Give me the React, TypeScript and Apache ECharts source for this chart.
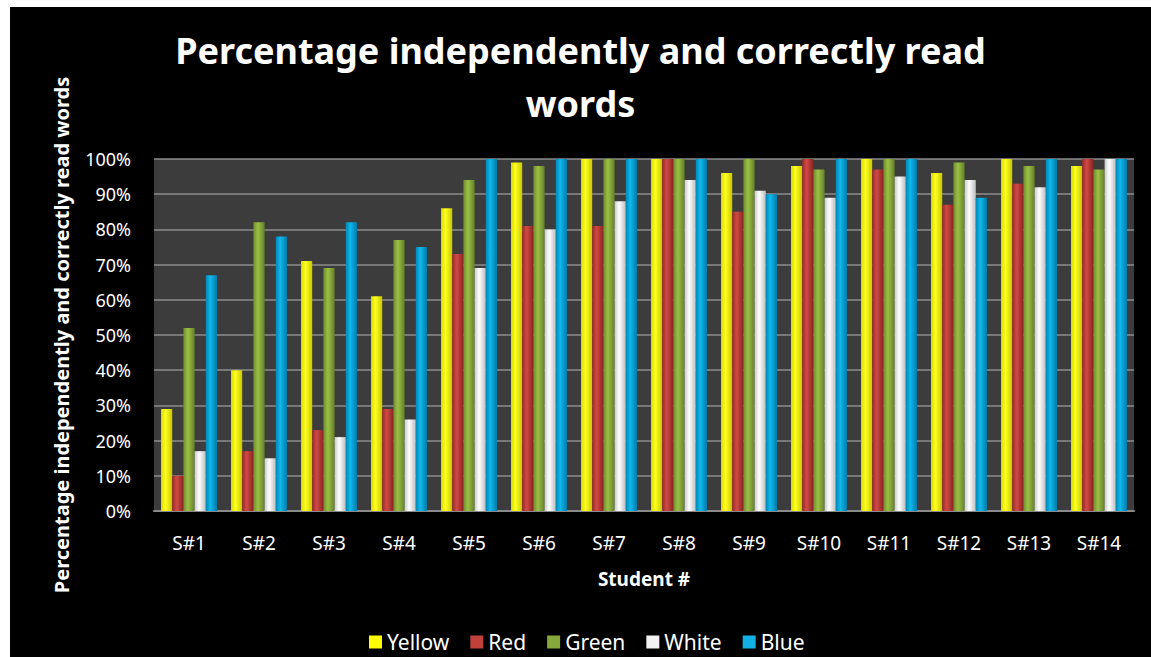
import React, { useEffect, useRef } from "react";
import * as echarts from "echarts";

// Student categories and per-colour reading scores (%)
const students = ["S#1", "S#2", "S#3", "S#4", "S#5", "S#6", "S#7", "S#8", "S#9", "S#10", "S#11", "S#12", "S#13", "S#14"];
const yellow = [29, 40, 71, 61, 86, 99, 100, 100, 96, 98, 100, 96, 100, 98];
const red = [10, 17, 23, 29, 73, 81, 81, 100, 85, 100, 97, 87, 93, 100];
const green = [52, 82, 69, 77, 94, 98, 100, 100, 100, 97, 100, 99, 98, 97];
const white = [17, 15, 21, 26, 69, 80, 88, 94, 91, 89, 95, 94, 92, 100];
const blue = [67, 78, 82, 75, 100, 100, 100, 100, 90, 100, 100, 89, 100, 100];

const seriesNames = ["Yellow", "Red", "Green", "White", "Blue"];
const seriesData = [yellow, red, green, white, blue];

// left edge, centre highlight, right edge of each cylinder-like column
const palette = [
  ["#d8d800", "#ffff20", "#c8c800"],
  ["#9a2a28", "#d04a44", "#8a2422"],
  ["#6e8c2c", "#9cc044", "#64802a"],
  ["#c8c8c8", "#ffffff", "#bdbdbd"],
  ["#0088b8", "#10b8ec", "#007aa8"],
];
const legendColors = ["#ffff00", "#c0403c", "#86a83a", "#f2f2f2", "#10b0e4"];

const FONT = "'Noto Sans', sans-serif";

export default function App() {
  const ref = useRef<HTMLDivElement>(null);

  useEffect(() => {
    if (!ref.current) return;
    const chart = echarts.init(ref.current, null, { renderer: "svg" });
    chart.setOption({
      animation: false,
      backgroundColor: "#000000",
      title: {
        text: "Percentage independently and correctly read\nwords",
        left: "center",
        top: 12,
        textStyle: {
          color: "#ffffff",
          fontFamily: FONT,
          fontWeight: "bold",
          fontSize: 36,
          lineHeight: 53,
        },
      },
      legend: {
        bottom: 4,
        left: 359,
        padding: 0,
        itemWidth: 13,
        itemHeight: 13,
        itemGap: 21,
        icon: "rect",
        textStyle: { color: "#ffffff", fontFamily: FONT, fontSize: 21, lineHeight: 22 },
        data: seriesNames.map((n, i) => ({ name: n, itemStyle: { color: legendColors[i] } })),
      },
      grid: {
        left: 144,
        right: 17,
        top: 152,
        bottom: 146,
        show: true,
        backgroundColor: "#3c3c3c",
        borderWidth: 0,
      },
      xAxis: {
        type: "category",
        data: students,
        name: "Student #",
        nameLocation: "middle",
        nameGap: 58,
        nameTextStyle: { color: "#ffffff", fontFamily: FONT, fontWeight: "bold", fontSize: 19 },
        axisLine: { lineStyle: { color: "#8a8a8a", width: 2 } },
        axisTick: { show: false },
        axisLabel: { color: "#ffffff", fontFamily: FONT, fontSize: 19, margin: 22 },
      },
      yAxis: {
        type: "value",
        min: 0,
        max: 100,
        interval: 10,
        name: "Percentage independently and correctly read words",
        nameLocation: "middle",
        nameGap: 83,
        nameTextStyle: { color: "#ffffff", fontFamily: FONT, fontWeight: "bold", fontSize: 20 },
        axisLine: { show: false },
        axisTick: { show: false },
        axisLabel: { color: "#ffffff", fontFamily: FONT, fontSize: 18, margin: 23, formatter: "{value}%" },
        splitLine: { lineStyle: { color: "#8c8c8c", width: 1.5 } },
      },
      series: seriesNames.map((name, i) => ({
        name,
        type: "bar",
        data: seriesData[i],
        barGap: "0%",
        barCategoryGap: "20%",
        itemStyle: {
          color: new echarts.graphic.LinearGradient(0, 0, 1, 0, [
            { offset: 0, color: palette[i][0] },
            { offset: 0.4, color: palette[i][1] },
            { offset: 1, color: palette[i][2] },
          ]),
        },
      })),
    });
    return () => chart.dispose();
  }, []);

  return (
    <div
      ref={ref}
      style={{ position: "absolute", left: 10, top: 7, width: 1141, height: 650 }}
    />
  );
}
